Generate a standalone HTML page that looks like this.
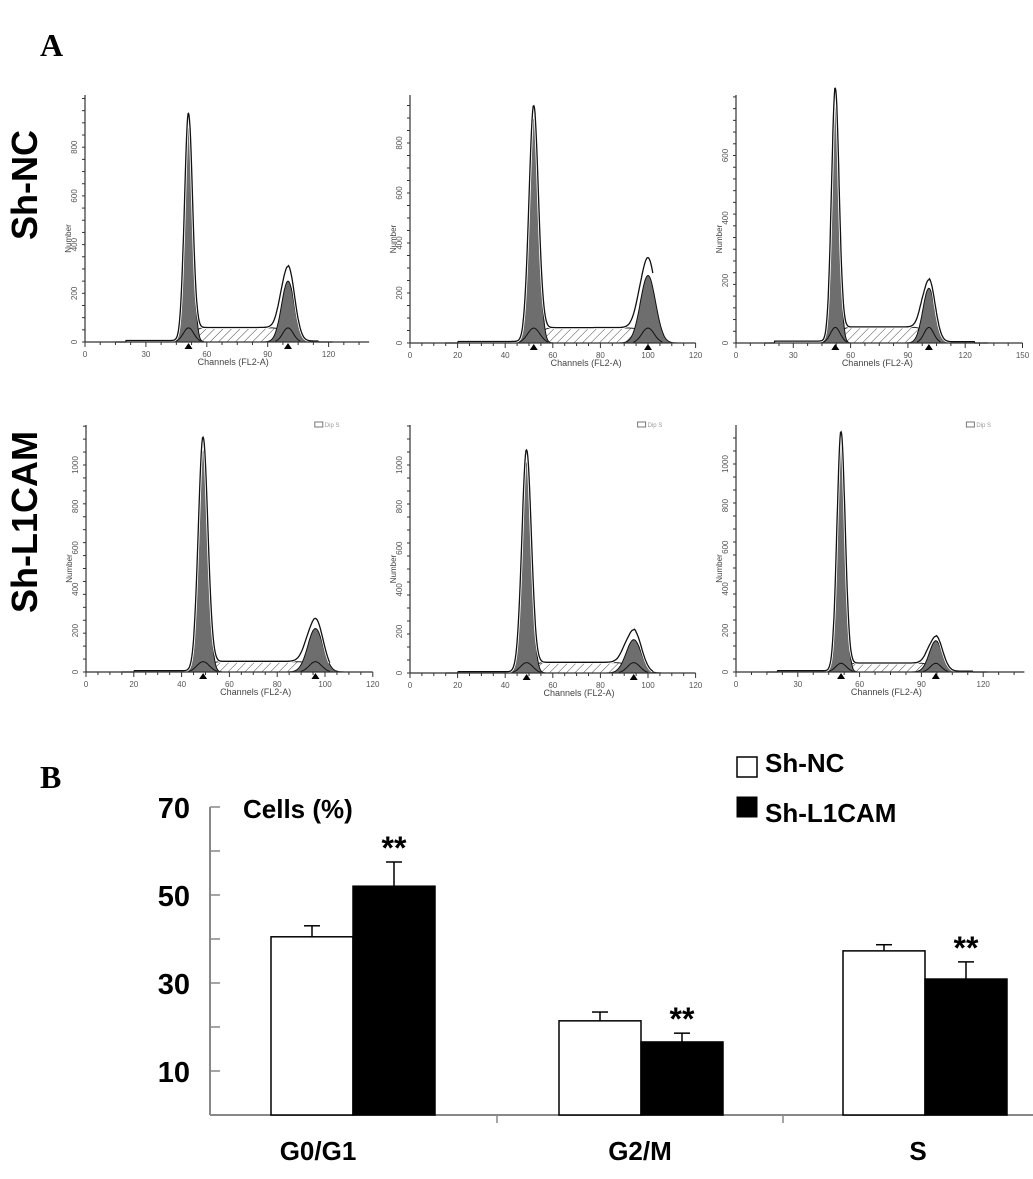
<!DOCTYPE html>
<html><head><meta charset="utf-8">
<style>
body{margin:0;background:#fff;}
svg{display:block;font-family:"Liberation Sans",Arial,sans-serif;}
</style></head>
<body>
<svg id="fig" width="1033" height="1179" viewBox="0 0 1033 1179" xmlns="http://www.w3.org/2000/svg">
<defs>
<pattern id="hatch" width="6" height="6" patternUnits="userSpaceOnUse" patternTransform="rotate(45)">
<rect width="6" height="6" fill="#fff"/><line x1="0" y1="0" x2="0" y2="6" stroke="#444" stroke-width="1"/>
</pattern>
</defs>
<text x="40" y="56" font-family="Liberation Serif,serif" font-weight="bold" font-size="32">A</text>
<text x="40" y="788" font-family="Liberation Serif,serif" font-weight="bold" font-size="32">B</text>
<text transform="translate(37,185) rotate(-90)" text-anchor="middle" font-weight="bold" font-size="36">Sh-NC</text>
<text transform="translate(37,522) rotate(-90)" text-anchor="middle" font-weight="bold" font-size="36">Sh-L1CAM</text>
<g id="hists"></g>
<g id="bars"></g>
</svg>
<script>
// ---- Histogram data (per panel) ----
const panelNames = ['sh-nc-1','sh-nc-2','sh-nc-3','sh-l1cam-1','sh-l1cam-2','sh-l1cam-3'];
const g1Pos = [51, 52, 52, 49, 49, 51];
const g1Height = [910, 920, 790, 1100, 1040, 1120];
const g2Pos = [100, 100, 101, 96, 94, 97];
const g2Height = [300, 330, 195, 250, 200, 165];
const g2Fit = [250, 270, 175, 210, 160, 150];
const sLevel = [58, 60, 50, 50, 50, 42];
const yTickMax = [800, 800, 600, 1000, 1000, 1000];
const xTickLabels = [[0,30,60,90,120],[0,20,40,60,80,100,120],[0,30,60,90,120,150],[0,20,40,60,80,100,120],[0,20,40,60,80,100,120],[0,30,60,90,120]];
const xMaxCh = [140, 120, 150, 120, 120, 140];
// layout (not data)
const L = [
 {x0:85,k:2.03,base:342,yk:48.7/200,top:95},
 {x0:410,k:2.38,base:343,yk:50/200,top:95},
 {x0:736,k:1.91,base:343,yk:62.5/200,top:95},
 {x0:86,k:2.39,base:672,yk:41.4/200,top:425},
 {x0:410,k:2.38,base:673,yk:41.6/200,top:425},
 {x0:736,k:2.06,base:672,yk:41.6/200,top:425}];
const NS='http://www.w3.org/2000/svg';
function mk(t,a,p){const e=document.createElementNS(NS,t);for(const k in a)e.setAttribute(k,a[k]);p.appendChild(e);return e;}
const H=document.getElementById('hists');
function gauss(x,m,s){return Math.exp(-0.5*((x-m)/s)**2);}
function sig(x){return 1/(1+Math.exp(-x));}
for(let i=0;i<6;i++){
  const l=L[i];
  const g=mk('g',{},H);
  
  
  const X=c=>l.x0+c*l.k, Y=v=>l.base-v*l.yk;
  const s1=2.0, s2=3.2;
  const sA=g1Pos[i]+3, sB=g2Pos[i]-3;
  const Sfun=c=>sLevel[i]*sig((c-sA)*1.2)*sig((sB-c)*1.2);
  const tot=c=>g1Height[i]*gauss(c,g1Pos[i],s1)+g2Height[i]*gauss(c,g2Pos[i],s2)+Sfun(c)+ (c>20&&c<g1Pos[i]?6:0)+(c>g2Pos[i]&&c<xMaxCh[i]-25?4:0);
  let d='M'+X(sA-3)+','+Y(0);
  for(let c=sA-3;c<=sB+3;c+=0.5)d+=' L'+X(c).toFixed(1)+','+Y(Sfun(c)).toFixed(1);
  d+=' L'+X(sB+3)+','+Y(0)+'Z';
  const sp=mk('path',{d:d,fill:'url(#hatch)',stroke:'#222','stroke-width':1},g);
  
  
  [[g1Pos[i],g1Height[i]*0.97,s1,'g1-peak'],[g2Pos[i],g2Fit[i],s2,'g2-peak']].forEach(p=>{
    let pd='M'+X(p[0]-4*p[2])+','+Y(0);
    for(let c=p[0]-4*p[2];c<=p[0]+4*p[2];c+=0.25)pd+=' L'+X(c).toFixed(1)+','+Y(p[1]*gauss(c,p[0],p[2])).toFixed(1);
    pd+='Z';
    const pk=mk('path',{d:pd,fill:'#6e6e6e',stroke:'#111','stroke-width':1},g);
    
    
    let bd='M'+X(p[0]-6)+','+Y(0);
    for(let c=p[0]-6;c<=p[0]+6;c+=0.5)bd+=' L'+X(c).toFixed(1)+','+Y(sLevel[i]*gauss(c,p[0],2.6)).toFixed(1);
    mk('path',{d:bd,fill:'none',stroke:'#111','stroke-width':1},g);
  });
  let td='';
  for(let c=15;c<=xMaxCh[i]-18;c+=0.25)td+=(td?' L':'M')+X(c).toFixed(1)+','+Y(tot(c)*1.03).toFixed(1);
  mk('path',{d:td,fill:'none',stroke:'#fff','stroke-width':3},g);
  const tl=mk('path',{d:td,fill:'none',stroke:'#111','stroke-width':1.3},g);
  
  
  mk('line',{x1:l.x0,y1:l.top,x2:l.x0,y2:l.base,stroke:'#333','stroke-width':1.2},g);
  mk('line',{x1:l.x0,y1:l.base,x2:X(xMaxCh[i]),y2:l.base,stroke:'#333','stroke-width':1.2},g);
  const step=xTickLabels[i][1]-xTickLabels[i][0];
  for(let c=0;c<=xMaxCh[i];c+=step/4)mk('line',{x1:X(c),y1:l.base,x2:X(c),y2:l.base+(c%step===0?5:3),stroke:'#333','stroke-width':1},g);
  xTickLabels[i].forEach(v=>{const t=mk('text',{x:X(v),y:l.base+15,'font-size':8,fill:'#555','text-anchor':'middle'},g);t.textContent=v;});
  for(let v=0;v*l.yk<=l.base-l.top;v+=yTickMax[i]/16)mk('line',{x1:l.x0-3,y1:Y(v),x2:l.x0,y2:Y(v),stroke:'#333','stroke-width':1},g);
  for(let v=0;v<=yTickMax[i];v+=200){const t=mk('text',{transform:`translate(${l.x0-8},${Y(v)}) rotate(-90)`,'font-size':8,fill:'#555','text-anchor':'middle'},g);t.textContent=v;}
  const xt=mk('text',{x:X(g1Pos[i]+22),y:l.base+23,'font-size':9,fill:'#444','text-anchor':'middle'},g);xt.textContent='Channels (FL2-A)';
  
  const yt=mk('text',{transform:`translate(${l.x0-14},${(l.base+l.top)/2+20}) rotate(-90)`,'font-size':8,fill:'#444','text-anchor':'middle'},g);yt.textContent='Number';
  
  [g1Pos[i],g2Pos[i]].forEach(c=>mk('path',{d:`M${X(c)-4},${l.base+7} L${X(c)},${l.base+1} L${X(c)+4},${l.base+7}Z`,fill:'#000'},g));
  if(i>=3){mk('rect',{x:X(xMaxCh[i])-58,y:l.top-3,width:8,height:5,fill:'none',stroke:'#777'},g);const dt=mk('text',{x:X(xMaxCh[i])-48,y:l.top+2,'font-size':6,fill:'#999'},g);dt.textContent='Dip S';}
}
// ---- Bar chart data ----
const categories = ['G0/G1','G2/M','S'];
const shNC = [40.5, 21.4, 37.3];
const shNCErr = [2.5, 2.0, 1.4];
const shL1 = [52.0, 16.6, 30.9];
const shL1Err = [5.5, 2.0, 3.9];
const yTicks = [10, 30, 50, 70];
const B=document.getElementById('bars');
const yB=v=>1115-4.4*v;
const catX=[353,641,925];
const bw=82;
mk('line',{x1:210,y1:807,x2:210,y2:1115,stroke:'#888','stroke-width':2},B);
mk('line',{x1:210,y1:1115,x2:1033,y2:1115,stroke:'#888','stroke-width':2},B);
[497,783].forEach(x=>mk('line',{x1:x,y1:1115,x2:x,y2:1123,stroke:'#888','stroke-width':1.5},B));
for(let v=10;v<=70;v+=10)mk('line',{x1:210,y1:yB(v),x2:220,y2:yB(v),stroke:'#888','stroke-width':1.5},B);
yTicks.forEach(v=>{const t=mk('text',{x:190,y:yB(v)+11,'font-size':29,'font-weight':'bold','text-anchor':'end'},B);t.textContent=v;
 });
const yt=mk('text',{x:243,y:818,'font-size':26,'font-weight':'bold'},B);yt.textContent='Cells (%)';

categories.forEach((c,i)=>{
  const cx=catX[i];
  const r1=mk('rect',{x:cx-bw,y:yB(shNC[i]),width:bw,height:1115-yB(shNC[i]),fill:'#fff',stroke:'#000','stroke-width':1.5},B);
  
  const r2=mk('rect',{x:cx,y:yB(shL1[i]),width:bw,height:1115-yB(shL1[i]),fill:'#000',stroke:'#000','stroke-width':1.5},B);
  
  [[cx-bw/2,shNC[i],shNCErr[i]],[cx+bw/2,shL1[i],shL1Err[i]]].forEach(e=>{
    mk('line',{x1:e[0],y1:yB(e[1]),x2:e[0],y2:yB(e[1]+e[2]),stroke:'#000','stroke-width':1.5},B);
    mk('line',{x1:e[0]-8,y1:yB(e[1]+e[2]),x2:e[0]+8,y2:yB(e[1]+e[2]),stroke:'#000','stroke-width':1.5},B);
  });
  const st=mk('text',{x:cx+bw/2,y:yB(shL1[i]+shL1Err[i])-3,'font-size':32,'font-weight':'bold','text-anchor':'middle'},B);st.textContent='**';
  
  const lb=mk('text',{x:[318,640,918][i],y:1160,'font-size':26,'font-weight':'bold','text-anchor':'middle'},B);lb.textContent=c;
  
});
const lg=mk('g',{},B);

mk('rect',{x:737,y:757,width:20,height:20,fill:'#fff',stroke:'#000','stroke-width':1.5},lg);
const l1=mk('text',{x:765,y:772,'font-size':26,'font-weight':'bold'},lg);l1.textContent='Sh-NC';
mk('rect',{x:737,y:797,width:20,height:20,fill:'#000',stroke:'#000'},lg);
const l2=mk('text',{x:765,y:822,'font-size':26,'font-weight':'bold'},lg);l2.textContent='Sh-L1CAM';
</script>
</body></html>
